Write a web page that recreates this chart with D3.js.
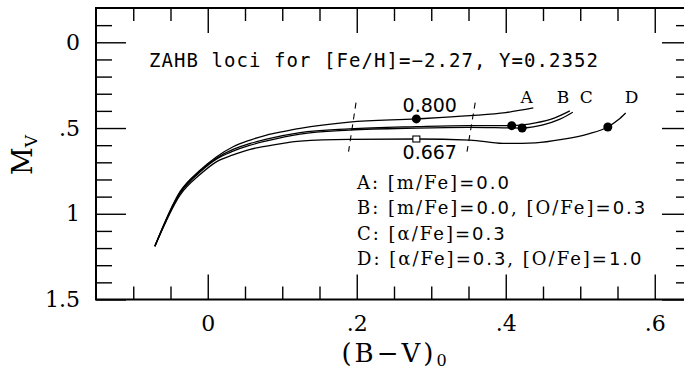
<!DOCTYPE html>
<html>
<head>
<meta charset="utf-8">
<script src="https://cdn.jsdelivr.net/npm/d3@7"></script>
<style>
  body { margin: 0; background: #fff; }
  svg { display: block; }
</style>
</head>
<body>
<div id="chart"></div>
<script>
// ZAHB loci, (B-V)0 vs Mv
const curveA = [
    [-0.071, 1.19], [-0.037, 0.87], [-0.010, 0.745], [0.012, 0.667], [0.034, 0.609],
    [0.057, 0.570], [0.079, 0.541], [0.101, 0.521], [0.124, 0.502], [0.190, 0.466],
    [0.280, 0.447], [0.352, 0.428], [0.400, 0.410], [0.437, 0.383]
];
const curveB = [
    [-0.071, 1.19], [-0.037, 0.875], [-0.010, 0.75], [0.012, 0.675], [0.034, 0.625],
    [0.057, 0.590], [0.079, 0.565], [0.124, 0.527], [0.190, 0.505], [0.280, 0.492],
    [0.350, 0.486], [0.408, 0.486], [0.440, 0.470], [0.465, 0.442], [0.486, 0.400]
];
const curveC = [
    [-0.071, 1.19], [-0.037, 0.88], [-0.010, 0.755], [0.012, 0.680], [0.034, 0.635],
    [0.057, 0.600], [0.079, 0.575], [0.124, 0.535], [0.190, 0.512], [0.280, 0.500],
    [0.350, 0.496], [0.422, 0.500], [0.450, 0.482], [0.472, 0.450], [0.490, 0.408]
];
const curveD = [
    [-0.071, 1.19], [-0.037, 0.89], [-0.010, 0.77], [0.012, 0.696], [0.034, 0.657],
    [0.057, 0.624], [0.079, 0.605], [0.101, 0.589], [0.124, 0.576], [0.190, 0.566],
    [0.280, 0.564], [0.352, 0.570], [0.396, 0.590], [0.440, 0.586], [0.477, 0.565],
    [0.510, 0.535], [0.537, 0.494], [0.551, 0.452], [0.561, 0.412]
];
const curves = [curveA, curveB, curveC, curveD];

// filled dots and the open square
const dots = [[0.280, 0.447], [0.408, 0.486], [0.422, 0.500], [0.537, 0.494]];
const squares = [[0.280, 0.564]];

// dashed mass lines
const dashLines = [
    [[0.199, 0.352], [0.189, 0.638]],
    [[0.359, 0.352], [0.348, 0.638]]
];

const curveNames = ["A", "B", "C", "D"];
const curveNamePos = [[0.428, 0.354], [0.477, 0.354], [0.508, 0.354], [0.569, 0.354]];
const massLabels = ["0.800", "0.667"];
const massLabelPos = [[0.298, 0.406], [0.298, 0.680]];

const legendLines = [
    "A: [m/Fe]=0.0",
    "B: [m/Fe]=0.0, [O/Fe]=0.3",
    "C: [\u03b1/Fe]=0.3",
    "D: [\u03b1/Fe]=0.3, [O/Fe]=1.0"
];
const title = "ZAHB loci for [Fe/H]=\u22122.27, Y=0.2352";

const xMajor = [0, 0.2, 0.4, 0.6];
const xLabels = ["0", ".2", ".4", ".6"];
const xMinor = [-0.1, -0.05, 0.05, 0.1, 0.15, 0.25, 0.3, 0.35, 0.45, 0.5, 0.55];
const yMajor = [0, 0.5, 1, 1.5];
const yLabels = ["0", ".5", "1", "1.5"];
const yMinor = [-0.1, 0.1, 0.2, 0.3, 0.4, 0.6, 0.7, 0.8, 0.9, 1.1, 1.2, 1.3, 1.4];

const width = 684;
const height = 372;
const frameL = 96, frameR = 692, frameT = 8, frameB = 299.5;

const svg = d3.select("#chart")
    .append("svg")
    .attr("width", width)
    .attr("height", height);

const x = d3.scaleLinear().domain([-0.15, 0.65]).range([frameL, frameR]);
const y = d3.scaleLinear().domain([-0.2, 1.5]).range([frameT, frameB]);

function styleAxis(g) {
    g.select(".domain").remove();
    g.selectAll(".tick line").attr("stroke", "#000").attr("stroke-width", 1.4);
    g.selectAll("text")
        .attr("fill", "#000")
        .style("font-family", "'DejaVu Serif', serif")
        .style("font-size", "22px");
}

// major + minor ticks on all four sides, pointing in
svg.append("g").attr("transform", `translate(0,${frameB})`)
    .call(d3.axisBottom(x).tickValues(xMajor).tickSize(-25).tickPadding(16).tickFormat((d, i) => xLabels[i]))
    .call(styleAxis);
svg.append("g").attr("transform", `translate(0,${frameB})`)
    .call(d3.axisBottom(x).tickValues(xMinor).tickSize(-13).tickFormat(""))
    .call(styleAxis);
svg.append("g").attr("transform", `translate(0,${frameT})`)
    .call(d3.axisTop(x).tickValues(xMajor).tickSize(-25).tickFormat(""))
    .call(styleAxis);
svg.append("g").attr("transform", `translate(0,${frameT})`)
    .call(d3.axisTop(x).tickValues(xMinor).tickSize(-13).tickFormat(""))
    .call(styleAxis);

svg.append("g").attr("transform", `translate(${frameL},0)`)
    .call(d3.axisLeft(y).tickValues(yMajor).tickSize(-30).tickPadding(16).tickFormat((d, i) => yLabels[i]))
    .call(styleAxis);
svg.append("g").attr("transform", `translate(${frameL},0)`)
    .call(d3.axisLeft(y).tickValues(yMinor).tickSize(-16).tickFormat(""))
    .call(styleAxis);
svg.append("g").attr("transform", `translate(${frameR},0)`)
    .call(d3.axisRight(y).tickValues(yMajor).tickSize(-30).tickFormat(""))
    .call(styleAxis);
svg.append("g").attr("transform", `translate(${frameR},0)`)
    .call(d3.axisRight(y).tickValues(yMinor).tickSize(-16).tickFormat(""))
    .call(styleAxis);

// frame
svg.append("rect")
    .attr("x", frameL).attr("y", frameT)
    .attr("width", frameR - frameL).attr("height", frameB - frameT)
    .attr("fill", "none").attr("stroke", "#000").attr("stroke-width", 2);

// curves
const line = d3.line()
    .x(d => x(d[0]))
    .y(d => y(d[1]))
    .curve(d3.curveMonotoneX);

svg.append("g")
    .selectAll("path")
    .data(curves)
    .enter()
    .append("path")
    .attr("d", line)
    .attr("fill", "none")
    .attr("stroke", "#000")
    .attr("stroke-width", 1.3);

svg.append("g")
    .selectAll("path")
    .data(dashLines)
    .enter()
    .append("path")
    .attr("d", d3.line().x(d => x(d[0])).y(d => y(d[1])))
    .attr("fill", "none")
    .attr("stroke", "#000")
    .attr("stroke-width", 1.1)
    .attr("stroke-dasharray", "6,5");

svg.append("g")
    .selectAll("circle")
    .data(dots)
    .enter()
    .append("circle")
    .attr("cx", d => x(d[0]))
    .attr("cy", d => y(d[1]))
    .attr("r", 4.5)
    .attr("fill", "#000");

svg.append("g")
    .selectAll("rect")
    .data(squares)
    .enter()
    .append("rect")
    .attr("x", d => x(d[0]) - 3.5)
    .attr("y", d => y(d[1]) - 3)
    .attr("width", 7)
    .attr("height", 6)
    .attr("fill", "#fff")
    .attr("stroke", "#000")
    .attr("stroke-width", 1.1);

// labels
svg.append("g")
    .selectAll("text")
    .data(curveNames)
    .enter()
    .append("text")
    .attr("x", (d, i) => x(curveNamePos[i][0]))
    .attr("y", (d, i) => y(curveNamePos[i][1]))
    .attr("text-anchor", "middle")
    .style("font-family", "'DejaVu Serif', serif")
    .style("font-size", "17px")
    .text(d => d);

svg.append("g")
    .selectAll("text")
    .data(massLabels)
    .enter()
    .append("text")
    .attr("x", (d, i) => x(massLabelPos[i][0]))
    .attr("y", (d, i) => y(massLabelPos[i][1]))
    .attr("text-anchor", "middle")
    .style("font-family", "'DejaVu Sans', sans-serif")
    .style("font-size", "19px")
    .text(d => d);

svg.append("text")
    .attr("x", 149)
    .attr("y", 67)
    .attr("textLength", 449)
    .style("font-family", "'DejaVu Sans Mono', monospace")
    .style("font-size", "19px")
    .text(title);

// legend: letters in serif, numbers in sans
const legend = svg.append("g")
    .style("font-size", "18px")
    .style("letter-spacing", "2px");
legendLines.forEach((s, i) => {
    const t = legend.append("text")
        .attr("x", 357)
        .attr("y", 189 + i * 25.4);
    s.split(/([=0-9.]+)/).filter(p => p.length).forEach(p => {
        t.append("tspan")
            .style("font-family", /^[=0-9.]+$/.test(p) ? "'DejaVu Sans', sans-serif" : "'DejaVu Serif', serif")
            .text(p);
    });
});

// axis titles
const xt = svg.append("text")
    .attr("x", (frameL + frameR) / 2)
    .attr("y", 362)
    .attr("text-anchor", "middle")
    .style("font-family", "'DejaVu Serif', serif")
    .style("font-size", "26px");
xt.append("tspan").style("letter-spacing", "3px").text("(B\u2212V)");
xt.append("tspan").attr("dy", 4).style("font-size", "16px").text("0");

const yt = svg.append("text")
    .attr("transform", "translate(32,155) rotate(-90)")
    .attr("text-anchor", "middle")
    .style("font-family", "'DejaVu Serif', serif")
    .style("font-size", "27px");
yt.append("tspan").text("M");
yt.append("tspan").attr("dy", 5).style("font-size", "17px").text("V");
</script>
</body>
</html>
